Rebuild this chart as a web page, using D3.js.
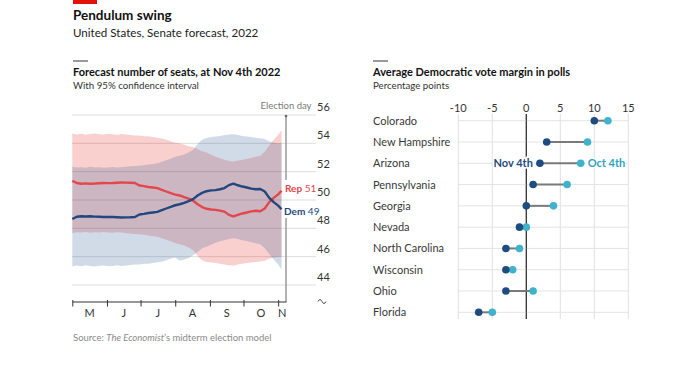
<!DOCTYPE html>
<html>
<head>
<meta charset="utf-8">
<script src="https://cdn.jsdelivr.net/npm/d3@7"></script>
<style>
  body { margin: 0; background: #fff; }
  svg { font-family: Lato, "Noto Sans", sans-serif; }
</style>
</head>
<body>
<svg id="chart" width="673" height="372"></svg>
<script>
// ---- left panel: forecast seats ----
const dates = [
  "2022-05-01","2022-05-05","2022-05-09","2022-05-13","2022-05-17","2022-05-21","2022-05-25","2022-05-29",
  "2022-06-02","2022-06-06","2022-06-10","2022-06-14","2022-06-18","2022-06-22","2022-06-26","2022-06-30",
  "2022-07-04","2022-07-08","2022-07-12","2022-07-16","2022-07-20","2022-07-24","2022-07-28",
  "2022-08-01","2022-08-05","2022-08-09","2022-08-13","2022-08-17","2022-08-21","2022-08-25","2022-08-29",
  "2022-09-02","2022-09-06","2022-09-10","2022-09-14","2022-09-18","2022-09-22","2022-09-26","2022-09-30",
  "2022-10-04","2022-10-08","2022-10-12","2022-10-16","2022-10-20","2022-10-24","2022-10-28",
  "2022-11-01","2022-11-04"
];
const repSeats = [
  51.35,51.2,51.15,51.17,51.15,51.16,51.18,51.2,
  51.19,51.2,51.22,51.24,51.23,51.22,51.2,51.02,
  50.98,50.92,50.88,50.84,50.72,50.6,50.48,
  50.38,50.32,50.2,50.1,49.95,49.7,49.5,49.38,
  49.33,49.3,49.25,49.18,48.95,48.84,48.95,49.05,
  49.12,49.2,49.24,49.21,49.4,49.85,50.15,
  50.4,50.65
];
const repHigh = [
  54.7,54.62,54.68,54.6,54.66,54.7,54.64,54.62,
  54.68,54.65,54.6,54.66,54.62,54.58,54.55,54.55,
  54.5,54.5,54.45,54.4,54.35,54.25,54.15,
  54.05,54.0,53.9,53.8,53.72,53.6,53.45,53.35,
  53.2,53.05,52.95,52.85,52.75,52.72,52.78,52.85,
  52.9,52.98,53.05,53.12,53.4,53.85,54.25,
  54.6,54.95
];
const repLow = [
  47.65,47.72,47.7,47.75,47.68,47.72,47.7,47.74,
  47.7,47.68,47.72,47.7,47.66,47.64,47.6,47.58,
  47.55,47.5,47.45,47.4,47.3,47.2,47.08,
  46.95,46.88,46.78,46.65,46.45,46.05,45.75,45.62,
  45.58,45.55,45.5,45.45,45.4,45.38,45.45,45.5,
  45.55,45.58,45.62,45.66,45.72,45.85,45.95,
  46.0,46.0
];
const demSeats = [
  48.66,48.82,48.85,48.84,48.85,48.83,48.82,48.8,
  48.81,48.8,48.78,48.76,48.77,48.78,48.8,48.98,
  49.02,49.08,49.12,49.16,49.28,49.4,49.52,
  49.63,49.7,49.8,49.92,50.06,50.32,50.5,50.62,
  50.68,50.7,50.76,50.84,51.05,51.15,51.04,50.95,
  50.88,50.8,50.76,50.78,50.6,50.15,49.85,
  49.6,49.35
];
const demHigh = [
  52.35,52.3,52.32,52.28,52.35,52.3,52.32,52.28,
  52.3,52.33,52.3,52.32,52.35,52.38,52.4,52.42,
  52.45,52.5,52.55,52.6,52.7,52.8,52.92,
  53.05,53.12,53.22,53.35,53.55,53.95,54.25,54.38,
  54.45,54.48,54.52,54.58,54.62,54.64,54.58,54.52,
  54.48,54.45,54.4,54.36,54.3,54.15,54.05,
  54.0,54.0
];
const demLow = [
  45.3,45.38,45.32,45.4,45.34,45.3,45.36,45.38,
  45.32,45.35,45.4,45.34,45.38,45.42,45.45,45.45,
  45.5,45.5,45.55,45.6,45.65,45.75,45.85,
  45.95,45.72,45.8,45.9,46.1,46.35,46.6,46.7,
  46.85,46.98,47.08,47.16,47.25,47.3,47.24,47.16,
  47.1,47.02,46.95,46.88,46.6,46.2,45.8,
  45.45,45.1
];
const seatTicks = [44, 46, 48, 50, 52, 54, 56];
const monthLabels = ["M", "J", "J", "A", "S", "O", "N"];
const electionDay = "2022-11-08";

// ---- right panel: poll margins ----
const states = ["Colorado", "New Hampshire", "Arizona", "Pennsylvania", "Georgia",
  "Nevada", "North Carolina", "Wisconsin", "Ohio", "Florida"];
const marginNov4 = [10, 3, 2, 1, 0, -1, -3, -3, -3, -7];
const marginOct4 = [12, 9, 8, 6, 4, 0, -1, -2, 1, -5];
const marginTicks = [-10, -5, 0, 5, 10, 15];

const red = "#e3120b";
const repColor = "#e3464c";
const demColor = "#22477e";
const novColor = "#1f4c80";
const octColor = "#3fb3cb";

const svg = d3.select("#chart");
const parse = d3.timeParse("%Y-%m-%d");

// Header
svg.append("rect").attr("x", 73).attr("y", 0).attr("width", 24).attr("height", 4).attr("fill", red);
svg.append("text").attr("x", 73).attr("y", 20)
  .attr("font-size", "13.5px").attr("font-weight", "bold").attr("fill", "#111")
  .text("Pendulum swing");
svg.append("text").attr("x", 73).attr("y", 37)
  .attr("font-size", "11.6px").attr("fill", "#222")
  .text("United States, Senate forecast, 2022");

function panelTitle(x0, title, sub) {
  svg.append("line").attr("x1", x0).attr("x2", x0 + 15).attr("y1", 61).attr("y2", 61)
    .attr("stroke", "#333").attr("stroke-width", 1);
  svg.append("text").attr("x", x0).attr("y", 76)
    .attr("font-size", "11px").attr("font-weight", "bold").attr("fill", "#111")
    .text(title);
  svg.append("text").attr("x", x0).attr("y", 89)
    .attr("font-size", "9.7px").attr("fill", "#333")
    .text(sub);
}
panelTitle(73, "Forecast number of seats, at Nov 4th 2022", "With 95% confidence interval");
panelTitle(373, "Average Democratic vote margin in polls", "Percentage points");

// ===== Left chart =====
const rows = dates.map((d, i) => ({
  date: parse(d),
  rep: repSeats[i], repLo: repLow[i], repHi: repHigh[i],
  dem: demSeats[i], demLo: demLow[i], demHi: demHigh[i]
}));

const x = d3.scaleTime()
  .domain([parse("2022-05-01"), parse(electionDay)])
  .range([72.3, 286]);
const y = d3.scaleLinear().domain([44, 56]).range([285, 115]);

const left = svg.append("g");

// gridlines + labels (labels sit above the lines, on the right)
left.selectAll(".grid").data(seatTicks).join("line")
  .attr("class", "grid")
  .attr("x1", 72).attr("x2", 316)
  .attr("y1", d => y(d)).attr("y2", d => y(d))
  .attr("stroke", "#dddddd").attr("stroke-width", 1);

left.selectAll(".ylab").data(seatTicks).join("text")
  .attr("class", "ylab")
  .attr("x", 317).attr("y", d => y(d) - 4)
  .attr("font-size", "11px").attr("fill", "#333")
  .text(d => d);

// axis break
left.append("path")
  .attr("d", "M318,301.5 q2,-4 4,0 t4,0")
  .attr("fill", "none").attr("stroke", "#555").attr("stroke-width", 1);

// confidence bands
const repArea = d3.area().x(d => x(d.date)).y0(d => y(d.repLo)).y1(d => y(d.repHi));
const demArea = d3.area().x(d => x(d.date)).y0(d => y(d.demLo)).y1(d => y(d.demHi));

left.append("path").datum(rows).attr("d", repArea)
  .attr("fill", red).attr("fill-opacity", 0.2);
left.append("path").datum(rows).attr("d", demArea)
  .attr("fill", "#2c5c96").attr("fill-opacity", 0.22);

// election day line, broken around the end labels
const xe = x(parse(electionDay));
[[115, 180], [218, 302]].forEach(([a, b]) => {
  left.append("line").attr("x1", xe).attr("x2", xe).attr("y1", a).attr("y2", b)
    .attr("stroke", "#9a9a9a").attr("stroke-width", 1.5);
});
left.append("circle").attr("cx", xe).attr("cy", 116).attr("r", 1.3).attr("fill", "#666");
left.append("text").attr("x", xe).attr("y", 108.5)
  .attr("text-anchor", "middle").attr("font-size", "9.5px").attr("fill", "#7a7a7a")
  .text("Election day");

// lines
const repLine = d3.line().x(d => x(d.date)).y(d => y(d.rep));
const demLine = d3.line().x(d => x(d.date)).y(d => y(d.dem));
left.append("path").datum(rows).attr("d", repLine)
  .attr("fill", "none").attr("stroke", repColor).attr("stroke-width", 2.4).attr("stroke-linejoin", "round");
left.append("path").datum(rows).attr("d", demLine)
  .attr("fill", "none").attr("stroke", demColor).attr("stroke-width", 2.4).attr("stroke-linejoin", "round");

// end labels
const last = rows[rows.length - 1];
const repLab = left.append("text").attr("x", 285).attr("y", 191.5)
  .attr("font-size", "10px").attr("fill", repColor);
repLab.append("tspan").attr("font-weight", "bold").text("Rep");
repLab.append("tspan").text(" " + Math.round(last.rep));
const demLab = left.append("text").attr("x", 284).attr("y", 214.5)
  .attr("font-size", "10px").attr("fill", demColor);
demLab.append("tspan").attr("font-weight", "bold").text("Dem");
demLab.append("tspan").text(" " + Math.round(last.dem));

// x axis
const xAxis = d3.axisBottom(x)
  .ticks(d3.timeMonth.every(1))
  .tickSize(5)
  .tickSizeOuter(0)
  .tickFormat("");
const axisG = left.append("g").attr("transform", "translate(0,301.5)").call(xAxis);
axisG.select(".domain").attr("stroke", "#333");
axisG.selectAll(".tick line").attr("stroke", "#333").attr("y1", -1.5);

const monthStarts = x.ticks(d3.timeMonth.every(1));
left.selectAll(".mlab").data(monthStarts).join("text")
  .attr("class", "mlab")
  .attr("x", (d, i) => {
    const next = i < monthStarts.length - 1 ? monthStarts[i + 1] : x.domain()[1];
    return (x(d) + x(next)) / 2;
  })
  .attr("y", 316.5)
  .attr("text-anchor", "middle").attr("font-size", "11px").attr("fill", "#333")
  .text((d, i) => monthLabels[i]);

// source
const src = svg.append("text").attr("x", 73).attr("y", 341)
  .attr("font-size", "9.5px").attr("fill", "#8a8a8a");
src.append("tspan").text("Source: ");
src.append("tspan").attr("font-style", "italic").text("The Economist");
src.append("tspan").text("\u2019s midterm election model");

// ===== Right chart =====
const xm = d3.scaleLinear().domain([-10, 15]).range([458.3, 628.3]);
const ys = d3.scalePoint().domain(states).range([120.7, 312.3]);
const right = svg.append("g");

right.selectAll(".vgrid").data(marginTicks).join("line")
  .attr("class", "vgrid")
  .attr("x1", d => xm(d)).attr("x2", d => xm(d))
  .attr("y1", 114).attr("y2", 319)
  .attr("stroke", d => d === 0 ? "#333" : "#e0e0e0")
  .attr("stroke-width", 1);

right.selectAll(".hgrid").data(states).join("line")
  .attr("class", "hgrid")
  .attr("x1", xm(-10)).attr("x2", xm(15))
  .attr("y1", d => ys(d)).attr("y2", d => ys(d))
  .attr("stroke", "#e4e4e4");
// keep zero line on top of row lines
right.append("line").attr("x1", xm(0)).attr("x2", xm(0)).attr("y1", 114).attr("y2", 319)
  .attr("stroke", "#333").attr("stroke-width", 1);

right.selectAll(".xlab").data(marginTicks).join("text")
  .attr("class", "xlab")
  .attr("x", d => xm(d)).attr("y", 112)
  .attr("text-anchor", "middle").attr("font-size", "11px").attr("fill", "#333")
  .text(d => d);

right.selectAll(".slab").data(states).join("text")
  .attr("class", "slab")
  .attr("x", 373).attr("y", d => ys(d) + 4)
  .attr("font-size", "11px").attr("fill", "#383838")
  .text(d => d);

const pts = states.map((s, i) => ({ state: s, nov: marginNov4[i], oct: marginOct4[i] }));

right.selectAll(".conn").data(pts).join("line")
  .attr("class", "conn")
  .attr("x1", d => xm(d.nov)).attr("x2", d => xm(d.oct))
  .attr("y1", d => ys(d.state)).attr("y2", d => ys(d.state))
  .attr("stroke", "#7a7a7a").attr("stroke-width", 2);

right.selectAll(".dotOct").data(pts).join("circle")
  .attr("class", "dotOct")
  .attr("cx", d => xm(d.oct)).attr("cy", d => ys(d.state)).attr("r", 3.8)
  .attr("fill", octColor);
right.selectAll(".dotNov").data(pts).join("circle")
  .attr("class", "dotNov")
  .attr("cx", d => xm(d.nov)).attr("cy", d => ys(d.state)).attr("r", 3.8)
  .attr("fill", novColor);

// annotations on Arizona row, with a white halo over the grid
const az = pts[2];
right.append("text").attr("x", xm(az.nov) - 7).attr("y", ys(az.state) + 4)
  .attr("text-anchor", "end").attr("font-size", "11px").attr("font-weight", "bold")
  .attr("stroke", "#fff").attr("stroke-width", 3).attr("paint-order", "stroke")
  .attr("fill", novColor).text("Nov 4th");
right.append("text").attr("x", xm(az.oct) + 7).attr("y", ys(az.state) + 4)
  .attr("font-size", "11px").attr("font-weight", "bold")
  .attr("stroke", "#fff").attr("stroke-width", 3).attr("paint-order", "stroke")
  .attr("fill", "#2fa3bc").text("Oct 4th");
</script>
</body>
</html>
